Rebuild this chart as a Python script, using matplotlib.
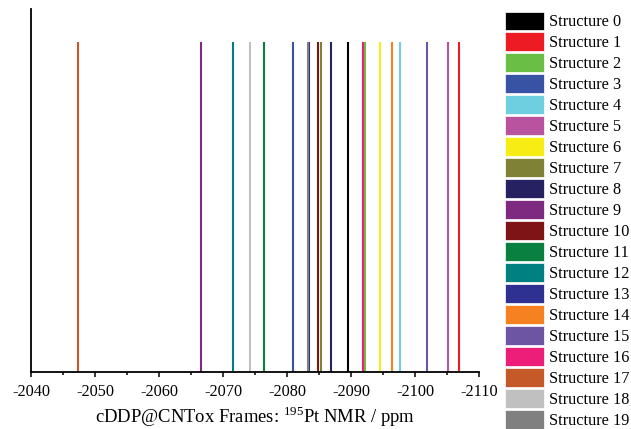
import matplotlib
matplotlib.use("Agg")
import matplotlib.pyplot as plt
from matplotlib.patches import Patch
from matplotlib.ticker import MultipleLocator

plt.rcParams['font.family'] = ['Liberation Serif', 'DejaVu Serif']
plt.rcParams['mathtext.fontset'] = 'custom'
plt.rcParams['mathtext.rm'] = 'Liberation Serif'
plt.rcParams['axes.unicode_minus'] = False

# datos: desplazamiento 195Pt (ppm) de cada estructura
structures = [f"Structure {i}" for i in range(20)]
shifts = [-2089.5, -2106.9, -2092.2, -2081.0, -2097.7,
          -2105.1, -2094.5, -2085.3, -2086.9, -2066.6,
          -2084.9, -2076.4, -2071.5, -2083.5, -2096.4,
          -2101.9, -2091.8, -2047.4, -2074.2, -2083.3]
colors = ['#000000', '#ED1C24', '#6ABD45', '#3953A4', '#6DCFDF',
          '#B9529F', '#F7EC13', '#7F8236', '#262262', '#7E2A80',
          '#7F1416', '#0A8040', '#008080', '#2E3192', '#F68121',
          '#6E55A4', '#EC1E79', '#C55A28', '#C0C0C0', '#808080']

fig = plt.figure(figsize=(6.31, 4.29), dpi=100)
ax = fig.add_axes([31/631, 1 - 372/429, 448/631, 363/429])

ax.vlines(shifts, 0, 1, colors=colors, linewidth=1.5)

ax.set_xlim(-2040, -2110)
ax.set_ylim(0, 1.1)
ax.xaxis.set_major_locator(MultipleLocator(10))
ax.xaxis.set_minor_locator(MultipleLocator(5))
ax.tick_params(axis='x', which='major', direction='out', length=3.5, width=1.1, labelsize=11.7, pad=5)
ax.tick_params(axis='x', which='minor', direction='out', length=2.5, width=1.1)
ax.set_yticks([])
for s in ['top', 'right']:
    ax.spines[s].set_visible(False)
ax.spines['left'].set_linewidth(1.3)
ax.spines['bottom'].set_linewidth(1.3)
ax.set_xlabel(r"cDDP@CNTox Frames: $^{195}$Pt NMR / ppm", fontsize=13.4, labelpad=3)

# leyenda con cajas de color
handles = [Patch(facecolor=c, edgecolor='white', linewidth=0.5) for c in colors]
fig.legend(handles, structures, loc='upper left', bbox_to_anchor=(505/631, 1 - 11.5/429),
           frameon=False, fontsize=11.7, handlelength=2.4, handleheight=1.42,
           labelspacing=0.123, handletextpad=0.3, borderpad=0, borderaxespad=0)

fig.savefig("out.png", dpi=100)
